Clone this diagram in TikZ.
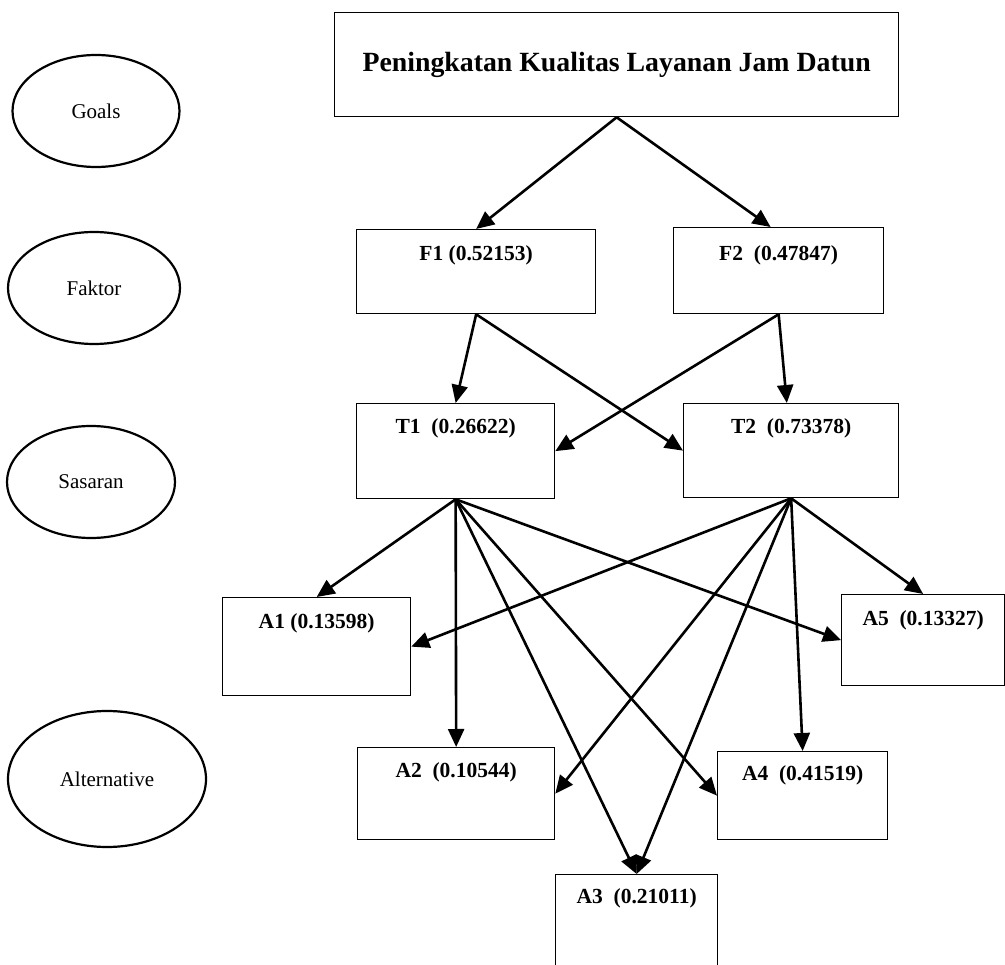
\documentclass[tikz,border=0pt]{standalone}
\usepackage{fontspec}
\setmainfont{Liberation Serif}
\usetikzlibrary{shapes.geometric,arrows.meta,calc}
\begin{document}
\begin{tikzpicture}[x=1pt,y=-1pt,
  boxnode/.style={draw, line width=1.3pt, rectangle, inner sep=0pt, anchor=north west},
  lvl/.style={draw, line width=2.2pt, ellipse, inner sep=0pt, font=\fontsize{21}{25}\selectfont},
  lbl/.style={font=\bfseries\fontsize{21.5}{25}\selectfont, inner sep=0pt},
  conn/.style={line width=2.6pt, -{Triangle[length=18pt,width=16pt]}}
]
\useasboundingbox (0,0) rectangle (1005,965);
\clip (0,0) rectangle (1005,965);

% level ellipses
\node[lvl, minimum width=167pt, minimum height=112pt] (goals) at (96,111) {Goals};
\node[lvl, minimum width=172pt, minimum height=112pt] (faktor) at (94,288) {Faktor};
\node[lvl, minimum width=168pt, minimum height=112pt] (sasaran) at (91,482) {Sasaran};
\node[lvl, minimum width=198pt, minimum height=136pt] (alt) at (107,779) {Alternative};

% boxes
\node[boxnode, minimum width=564pt, minimum height=104pt] (top) at (334,12) {};
\node[lbl, font=\bfseries\fontsize{27.8}{32}\selectfont] (topt) at (top.center) {Peningkatan Kualitas Layanan Jam Datun};

\node[boxnode, minimum width=239pt, minimum height=84pt] (f1) at (356,229) {};
\node[boxnode, minimum width=210pt, minimum height=86pt] (f2) at (673,227) {};
\node[boxnode, minimum width=198pt, minimum height=95pt] (t1) at (356,403) {};
\node[boxnode, minimum width=215pt, minimum height=94pt] (t2) at (683,403) {};
\node[boxnode, minimum width=188pt, minimum height=98pt] (a1) at (222,597) {};
\node[boxnode, minimum width=197pt, minimum height=92pt] (a2) at (357,747) {};
\node[boxnode, minimum width=162pt, minimum height=120pt] (a3) at (555,874) {};
\node[boxnode, minimum width=170pt, minimum height=88pt] (a4) at (717,751) {};
\node[boxnode, minimum width=163pt, minimum height=91pt] (a5) at (841,594) {};

\node[lbl] (f1t) at ($(f1.north)+(0,26)$) {F1 (0.52153)};
\node[lbl] (f2t) at ($(f2.north)+(0,28)$) {F2\ \ (0.47847)};
\node[lbl] (t1t) at ($(t1.north)+(0,25)$) {T1\ \ (0.26622)};
\node[lbl] (t2t) at ($(t2.north)+(0,25)$) {T2\ \ (0.73378)};
\node[lbl] (a1t) at ($(a1.north)+(0,26)$) {A1 (0.13598)};
\node[lbl] (a2t) at ($(a2.north)+(0,25)$) {A2\ \ (0.10544)};
\node[lbl] (a3t) at ($(a3.north)+(0,24)$) {A3\ \ (0.21011)};
\node[lbl] (a4t) at ($(a4.north)+(0,24)$) {A4\ \ (0.41519)};
\node[lbl] (a5t) at ($(a5.north)+(0,26)$) {A5\ \ (0.13327)};

% connectors
\draw[conn] (top.south) -- (f1.north);
\draw[conn] (top.south) -- ($(f2.north west)!0.462!(f2.north east)$);
\draw[conn] (f1.south) -- (t1.north);
\draw[conn] (f1.south) -- (t2.west);
\draw[conn] (f2.south) -- (t1.east);
\draw[conn] (f2.south) -- ($(t2.north west)!0.48!(t2.north east)$);

\draw[conn] (t1.south) -- (a1.north);
\draw[conn] (t1.south) -- (a2.north);
\draw[conn] (t1.south) -- ($(a3.north west)!0.5!(a3.north east)$);
\draw[conn] (t1.south) -- (a4.west);
\draw[conn] (t1.south) -- (a5.west);

\draw[conn] (t2.south) -- (a1.east);
\draw[conn] (t2.south) -- (a2.east);
\draw[conn] (t2.south) -- ($(a3.north west)!0.5!(a3.north east)$);
\draw[conn] (t2.south) -- (a4.north);
\draw[conn] (t2.south) -- (a5.north);
\end{tikzpicture}
\end{document}
